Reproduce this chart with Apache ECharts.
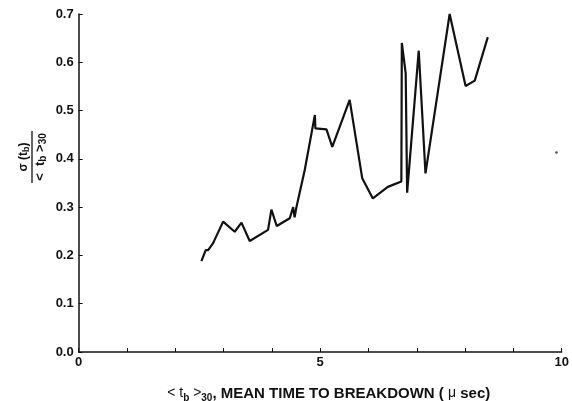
<!DOCTYPE html>
<html><head><meta charset="utf-8">
<script src="https://cdn.jsdelivr.net/npm/echarts@6/dist/echarts.min.js"></script>
<style>html,body{margin:0;padding:0;background:#fff}#c{width:572px;height:401px}</style>
</head><body><div id="c"></div>
<script>
var meanTime = [2.54, 2.63, 2.68, 2.78, 2.99, 3.23, 3.37, 3.54, 3.92, 3.99, 4.10, 4.37, 4.44, 4.47, 4.51, 4.68, 4.89, 4.90, 5.13, 5.25, 5.61, 5.87, 6.09, 6.40, 6.68, 6.69, 6.77, 6.80, 7.04, 7.18, 7.68, 8.01, 8.20, 8.47];
var ratio    = [0.188, 0.211, 0.211, 0.225, 0.270, 0.249, 0.268, 0.230, 0.253, 0.295, 0.261, 0.277, 0.300, 0.279, 0.301, 0.377, 0.491, 0.463, 0.461, 0.425, 0.522, 0.360, 0.318, 0.342, 0.353, 0.640, 0.577, 0.330, 0.624, 0.370, 0.700, 0.551, 0.562, 0.652];
var specX = [9.89], specY = [0.413];
var xLabels = ['0', '5', '10'];
var yLabels = ['0.0', '0.1', '0.2', '0.3', '0.4', '0.5', '0.6', '0.7'];

var pts = meanTime.map(function (x, i) { return [x, ratio[i]]; });
var spec = specX.map(function (x, i) { return [x, specY[i]]; });
var FONT = 'Liberation Sans, Arial, sans-serif';

var chart = echarts.init(document.getElementById('c'), null, {renderer: 'canvas'});
chart.setOption({
  animation: false,
  backgroundColor: '#fff',
  grid: {left: 78.7, right: 10.3, top: 14, bottom: 49, containLabel: false, outerBoundsMode: 'none'},
  xAxis: {
    type: 'value', min: 0, max: 10, interval: 1,
    axisLine: {lineStyle: {color: '#111', width: 1.5}},
    axisTick: {inside: true, length: 4, lineStyle: {color: '#111', width: 1}},
    splitLine: {show: false},
    axisLabel: {
      color: '#111', fontFamily: FONT, fontWeight: 'bold', fontSize: 13, margin: 4,
      formatter: function (v) { var i = [0, 5, 10].indexOf(v); return i >= 0 ? xLabels[i] : ''; }
    },
    name: '{n|< t}{s|b}{n| >}{s|30}{b|, MEAN TIME TO BREAKDOWN ( }{n|μ}{b| sec)}',
    nameLocation: 'middle', nameGap: 32,
    nameTextStyle: {
      padding: [0, 0, 0, 17],
      rich: {
        n: {fontFamily: FONT, fontSize: 14, color: '#111', fontWeight: 'normal'},
        s: {fontFamily: FONT, fontSize: 10, color: '#111', fontWeight: 'bold', padding: [9, 0, 0, 0]},
        b: {fontFamily: FONT, fontSize: 15, color: '#111', fontWeight: 'bold'}
      }
    }
  },
  yAxis: {
    type: 'value', min: 0, max: 0.7, interval: 0.1,
    axisLine: {show: true, lineStyle: {color: '#111', width: 1.5}},
    axisTick: {show: true, inside: true, length: 4, lineStyle: {color: '#111', width: 1}},
    splitLine: {show: false},
    axisLabel: {
      color: '#111', fontFamily: FONT, fontWeight: 'bold', fontSize: 13, margin: 5,
      formatter: function (v) { return yLabels[Math.round(v * 10)]; }
    }
  },
  graphic: [{
    type: 'group', x: 32, y: 157, rotation: Math.PI / 2,
    children: [
      {type: 'text', x: 0, y: -8, style: {
        text: '{a|σ (t}{s|b}{a|)}', align: 'center', verticalAlign: 'middle',
        rich: {
          a: {fontFamily: FONT, fontSize: 12, fontWeight: 'bold', fill: '#111'},
          s: {fontFamily: FONT, fontSize: 9, fontWeight: 'bold', fill: '#111', padding: [6, 0, 0, 0]}
        }}},
      {type: 'line', shape: {x1: -26, y1: 0, x2: 26, y2: 0}, style: {stroke: '#111', lineWidth: 1.3}},
      {type: 'text', x: 0, y: 8, style: {
        text: '{a|<  t}{s|b}{a| >}{s|30}', align: 'center', verticalAlign: 'middle',
        rich: {
          a: {fontFamily: FONT, fontSize: 13, fontWeight: 'bold', fill: '#111'},
          s: {fontFamily: FONT, fontSize: 10, fontWeight: 'bold', fill: '#111', padding: [7, 0, 0, 0]}
        }}}
    ]
  }],
  series: [{
    type: 'line', data: pts, showSymbol: false, symbol: 'none',
    lineStyle: {color: '#111', width: 2.2}
  }, {
    type: 'scatter', data: spec, symbolSize: 2.5,
    itemStyle: {color: '#222'}
  }]
});
</script></body></html>
